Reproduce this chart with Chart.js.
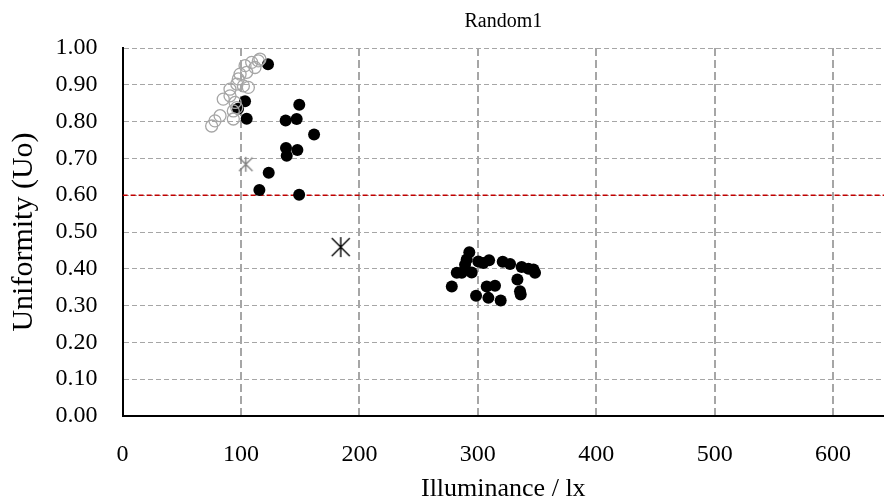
<!DOCTYPE html>
<html>
<head>
<meta charset="utf-8">
<script src="https://cdn.jsdelivr.net/npm/chart.js@4.4.1/dist/chart.umd.min.js"></script>
<style>
  body { margin: 0; background: #ffffff; }
  #wrap { width: 884px; height: 502px; }
</style>
</head>
<body>
<div id="wrap"><canvas id="uniformity-chart" width="884" height="502"></canvas></div>
<script>
// Black filled dots
const blackLux = [122.8, 103.4, 97.5, 104.8, 149.2, 137.7, 147.0, 161.7, 138.0, 147.6, 138.6, 123.4, 115.5, 149.1,
  292.8, 290.6, 289.2, 300.4, 304.6, 309.5, 282.2, 286.4, 294.8, 278.0, 321.0, 327.2, 337.0, 342.7, 348.3, 347.0,
  333.4, 307.5, 314.5, 298.5, 308.9, 319.3, 335.6, 336.2];
const blackUo = [0.956, 0.855, 0.835, 0.808, 0.846, 0.803, 0.807, 0.765, 0.728, 0.723, 0.707, 0.661, 0.614, 0.601,
  0.445, 0.425, 0.411, 0.420, 0.416, 0.423, 0.389, 0.389, 0.390, 0.352, 0.419, 0.413, 0.405, 0.400, 0.389, 0.398,
  0.371, 0.352, 0.354, 0.327, 0.321, 0.314, 0.339, 0.330];

// Grey open circles
const greyLux = [75.2, 78.0, 82.3, 85.0, 90.7, 93.5, 93.5, 95.0, 96.4, 97.7, 99.2, 102.0, 103.4, 104.8, 106.2,
  109.0, 111.8, 114.6, 116.0, 96.4, 90.7];
const greyUo = [0.788, 0.802, 0.816, 0.861, 0.888, 0.829, 0.807, 0.852, 0.902, 0.916, 0.929, 0.897, 0.952, 0.934,
  0.893, 0.961, 0.947, 0.965, 0.970, 0.838, 0.870];

// Star markers
const starBlackLux = [184.2];
const starBlackUo = [0.459];
const starGreyLux = [104.0];
const starGreyUo = [0.684];

const CHART_TITLE = "Random1";
const THRESHOLD_UO = 0.6;
const X_MAX = 643;
const X_TICKS = [0, 100, 200, 300, 400, 500, 600];
const Y_TICKS = [0, 0.1, 0.2, 0.3, 0.4, 0.5, 0.6, 0.7, 0.8, 0.9, 1.0];

const toPoints = (xs, ys) => xs.map((x, i) => ({ x: x, y: ys[i] }));

const makeStar = (size, color, lineWidth) => {
  const c = document.createElement("canvas");
  c.width = size;
  c.height = size;
  const ctx = c.getContext("2d");
  const m = size / 2;
  const r = size / 2 - 1;
  const d = r * 0.9;
  ctx.strokeStyle = color;
  ctx.lineWidth = lineWidth;
  ctx.beginPath();
  ctx.moveTo(m, m - r);
  ctx.lineTo(m, m + r);
  ctx.moveTo(m - d, m - d);
  ctx.lineTo(m + d, m + d);
  ctx.moveTo(m + d, m - d);
  ctx.lineTo(m - d, m + d);
  ctx.stroke();
  return c;
};

const serif = "'Liberation Serif', 'Times New Roman', serif";

// Title centred over the plot area rather than the whole canvas
const plotTitle = {
  id: "plotTitle",
  afterDraw: (chart) => {
    const { ctx, chartArea } = chart;
    ctx.save();
    ctx.fillStyle = "#000000";
    ctx.font = "20px " + serif;
    ctx.textAlign = "center";
    ctx.textBaseline = "middle";
    ctx.fillText(CHART_TITLE, (chartArea.left + chartArea.right) / 2, 22);
    ctx.restore();
  },
};

const data = {
  datasets: [
    {
      type: "scatter",
      data: toPoints(greyLux, greyUo),
      pointRadius: 6,
      pointBackgroundColor: "rgba(0,0,0,0)",
      pointBorderColor: "#a6a6a6",
      pointBorderWidth: 1.3,
    },
    {
      type: "scatter",
      data: toPoints(starGreyLux, starGreyUo),
      pointStyle: makeStar(17, "#808080", 1.4),
    },
    {
      type: "scatter",
      data: toPoints(starBlackLux, starBlackUo),
      pointStyle: makeStar(22, "#000000", 1.4),
    },
    {
      type: "scatter",
      data: toPoints(blackLux, blackUo),
      pointRadius: 6,
      pointBackgroundColor: "#000000",
      pointBorderColor: "#000000",
      pointBorderWidth: 0,
    },
    {
      type: "line",
      data: [
        { x: 0, y: THRESHOLD_UO },
        { x: X_MAX, y: THRESHOLD_UO },
      ],
      borderColor: "#c00000",
      borderWidth: 1.5,
      borderDash: [5, 3],
      pointRadius: 0,
      fill: false,
    },
  ],
};

const config = {
  type: "scatter",
  data: data,
  plugins: [plotTitle],
  options: {
    responsive: false,
    animation: false,
    devicePixelRatio: 1,
    layout: { autoPadding: false, padding: { left: 0, right: 0, top: 48, bottom: 0 } },
    plugins: {
      legend: { display: false },
      tooltip: { enabled: false },
      title: { display: false },
    },
    scales: {
      x: {
        type: "linear",
        min: 0,
        max: X_MAX,
        afterFit: (scale) => {
          scale.height = 86;
          scale.paddingLeft = 0;
          scale.paddingRight = 0;
        },
        afterBuildTicks: (scale) => {
          scale.ticks = X_TICKS.map((v) => ({ value: v }));
        },
        ticks: {
          color: "#000000",
          padding: 24,
          maxRotation: 0,
          font: { family: serif, size: 24 },
        },
        grid: {
          color: (ctx) => (ctx.index === 0 ? "rgba(0,0,0,0)" : "#a6a6a6"),
          lineWidth: 2,
          drawTicks: false,
        },
        border: { display: true, color: "#000000", width: 2, dash: [8, 4] },
        title: {
          display: true,
          text: "Illuminance / lx",
          color: "#000000",
          font: { family: serif, size: 26 },
          padding: { top: 0, bottom: -3 },
        },
      },
      y: {
        type: "linear",
        min: 0,
        max: 1,
        afterFit: (scale) => {
          scale.width = 122.6;
          scale.paddingTop = 0;
          scale.paddingBottom = 0;
        },
        afterBuildTicks: (scale) => {
          scale.ticks = Y_TICKS.map((v) => ({ value: v }));
        },
        ticks: {
          color: "#000000",
          padding: 25,
          font: { family: serif, size: 24 },
          callback: (value) => Number(value).toFixed(2),
        },
        grid: {
          color: (ctx) => (ctx.index === 0 ? "rgba(0,0,0,0)" : "#a6a6a6"),
          lineWidth: 1,
          drawTicks: false,
        },
        border: { display: true, color: "#000000", width: 2, dash: [5, 3] },
        title: {
          display: true,
          text: "Uniformity (Uo)",
          color: "#000000",
          font: { family: serif, size: 30 },
          padding: { top: 6, bottom: 0 },
        },
      },
    },
  },
};

new Chart(document.getElementById("uniformity-chart"), config);
</script>
</body>
</html>
